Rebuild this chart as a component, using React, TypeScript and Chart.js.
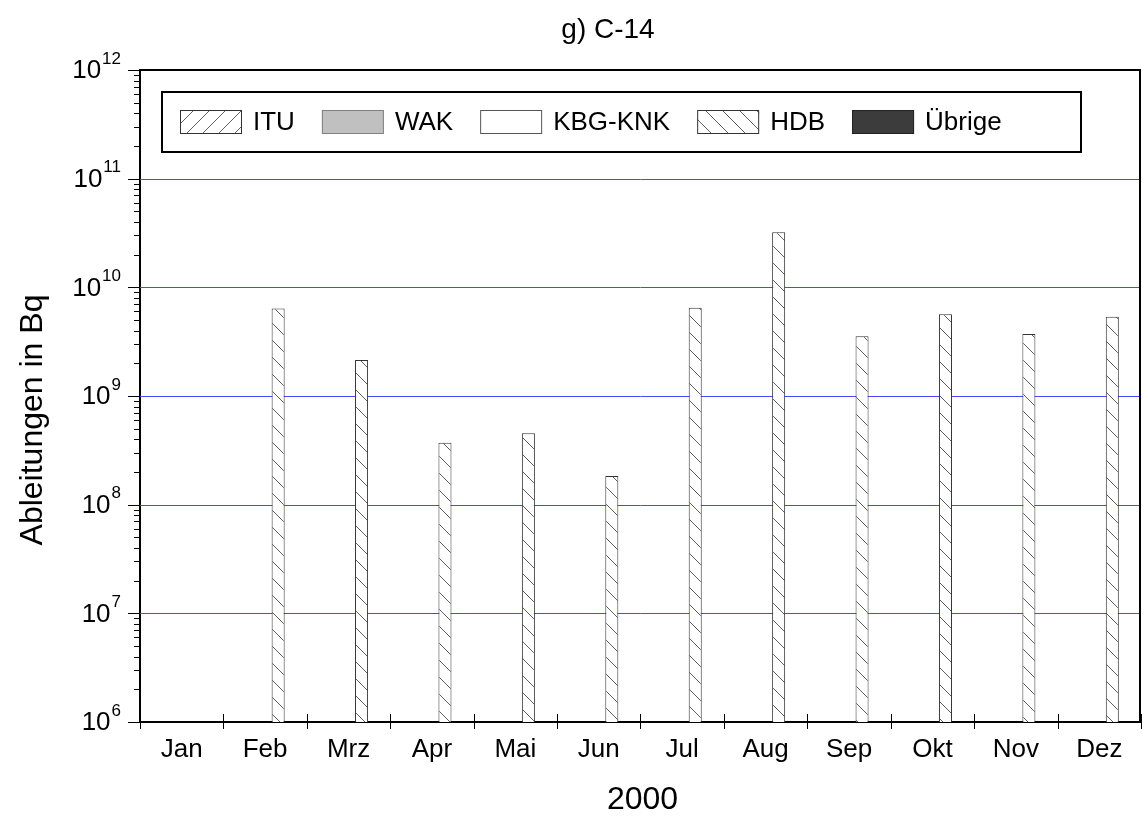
import React, { useEffect, useRef } from "react";
import { Chart, registerables } from "chart.js";

Chart.register(...registerables);

// ---------- data ----------
const months = ["Jan", "Feb", "Mrz", "Apr", "Mai", "Jun", "Jul", "Aug", "Sep", "Okt", "Nov", "Dez"];
const seriesLabels = ["ITU", "WAK", "KBG-KNK", "HDB", "Übrige"];
const ituValues = [null, null, null, null, null, null, null, null, null, null, null, null];
const wakValues = [null, null, null, null, null, null, null, null, null, null, null, null];
const kbgKnkValues = [null, null, null, null, null, null, null, null, null, null, null, null];
const hdbValues = [null, 6.4e9, 2.14e9, 3.72e8, 4.54e8, 1.84e8, 6.5e9, 3.21e10, 3.54e9, 5.65e9, 3.72e9, 5.37e9];
const uebrigeValues = [null, null, null, null, null, null, null, null, null, null, null, null];
const yTickExponents = [6, 7, 8, 9, 10, 11, 12];
const minorMultipliers = [2, 3, 4, 5, 6, 7, 8, 9];
const chartTitle = "g) C-14";
const xAxisTitle = "2000";
const yAxisTitle = "Ableitungen in Bq";

const FONT = '"Liberation Sans", Arial, sans-serif';

function makeHatch(dir: "/" | "\\", size: number, bg: string, line: string) {
  const c = document.createElement("canvas");
  c.width = size;
  c.height = size;
  const g = c.getContext("2d")!;
  g.fillStyle = bg;
  g.fillRect(0, 0, size, size);
  g.fillStyle = line;
  for (let i = 0; i < size; i++) {
    if (dir === "\\") g.fillRect(i, i, 1, 1);
    else g.fillRect(i, size - 1 - i, 1, 1);
  }
  return g.createPattern(c, "repeat")!;
}

export default function App() {
  const ref = useRef<HTMLCanvasElement | null>(null);

  useEffect(() => {
    const canvas = ref.current;
    if (!canvas) return;

    const ituFill = makeHatch("/", 16, "#ffffff", "#606060");
    const hdbFill = makeHatch("\\", 17, "#ffffff", "#606060");
    const fills = [ituFill, "#c0c0c0", "#ffffff", hdbFill, "#3c3c3c"];
    const borders = ["#333333", "#808080", "#555555", "#333333", "#222222"];
    const valueSets = [ituValues, wakValues, kbgKnkValues, hdbValues, uebrigeValues];

    const gridPlugin = {
      id: "blueGrid",
      beforeDatasetsDraw(chart: any) {
        const { ctx, chartArea } = chart;
        const ys = chart.scales.y;
        ctx.save();
        ctx.strokeStyle = "#4848ff";
        ctx.lineWidth = 1;
        ctx.beginPath();
        yTickExponents.forEach((e, i) => {
          if (i === 0 || i === yTickExponents.length - 1) return;
          const py = Math.round(ys.getPixelForValue(Math.pow(10, e))) + 0.5;
          ctx.moveTo(chartArea.left, py);
          ctx.lineTo(chartArea.right, py);
        });
        ctx.stroke();
        ctx.restore();
      },
    };

    const decor = {
      id: "decor",
      afterDraw(chart: any) {
        const { ctx, chartArea } = chart;
        const xs = chart.scales.x;
        const ys = chart.scales.y;
        const L = chartArea.left;
        const R = chartArea.right;
        const T = chartArea.top;
        const B = chartArea.bottom;
        ctx.save();

        // frame top & right
        ctx.strokeStyle = "#000";
        ctx.lineWidth = 2;
        ctx.beginPath();
        ctx.moveTo(L, T);
        ctx.lineTo(R - 1, T);
        ctx.lineTo(R - 1, B);
        ctx.stroke();

        // y ticks
        ctx.lineWidth = 1;
        ctx.strokeStyle = "#000";
        ctx.beginPath();
        yTickExponents.forEach((e, i) => {
          const py = Math.round(ys.getPixelForValue(Math.pow(10, e))) + 0.5;
          ctx.moveTo(L - 12, py);
          ctx.lineTo(L, py);
          if (i < yTickExponents.length - 1) {
            minorMultipliers.forEach((m) => {
              const pm = Math.round(ys.getPixelForValue(m * Math.pow(10, e))) + 0.5;
              ctx.moveTo(L - 6, pm);
              ctx.lineTo(L, pm);
            });
          }
        });
        ctx.stroke();

        // y tick labels 10^e
        ctx.fillStyle = "#000";
        yTickExponents.forEach((e) => {
          const py = ys.getPixelForValue(Math.pow(10, e));
          ctx.font = `26px ${FONT}`;
          const wb = ctx.measureText("10").width;
          ctx.font = `17px ${FONT}`;
          const we = ctx.measureText(String(e)).width;
          const x0 = L - 20 - wb - we;
          ctx.textAlign = "left";
          ctx.textBaseline = "middle";
          ctx.font = `26px ${FONT}`;
          ctx.fillText("10", x0, py + 1);
          ctx.font = `17px ${FONT}`;
          ctx.fillText(String(e), x0 + wb + 1, py - 11);
        });

        // x ticks at category boundaries
        const half = (xs.getPixelForValue(1) - xs.getPixelForValue(0)) / 2;
        ctx.beginPath();
        ctx.lineWidth = 1;
        for (let i = 0; i <= months.length; i++) {
          const px = Math.round(xs.getPixelForValue(i) - half) + 0.5;
          ctx.moveTo(px, B - 8);
          ctx.lineTo(px, B + 7);
        }
        ctx.stroke();

        // titles
        ctx.fillStyle = "#000";
        ctx.textAlign = "center";
        ctx.textBaseline = "middle";
        ctx.font = `28px ${FONT}`;
        ctx.fillText(chartTitle, 608, 30);
        ctx.font = `32px ${FONT}`;
        ctx.fillText(xAxisTitle, (L + R) / 2 + 2, 800);
        ctx.save();
        ctx.translate(33, 420);
        ctx.rotate(-Math.PI / 2);
        ctx.fillText(yAxisTitle, 0, 0);
        ctx.restore();

        // legend
        const bx = L + 22;
        const by = T + 22;
        ctx.fillStyle = "#fff";
        ctx.fillRect(bx, by, 919, 60);
        ctx.strokeStyle = "#000";
        ctx.lineWidth = 2;
        ctx.strokeRect(bx, by, 919, 60);
        let cx = bx + 18;
        const cy = by + 30;
        ctx.font = `26px ${FONT}`;
        chart.data.datasets.forEach((ds: any) => {
          ctx.fillStyle = ds.backgroundColor;
          ctx.fillRect(cx, cy - 12, 62, 24);
          ctx.strokeStyle = ds.borderColor;
          ctx.lineWidth = 1;
          ctx.strokeRect(cx + 0.5, cy - 11.5, 61, 23);
          ctx.fillStyle = "#000";
          ctx.textAlign = "left";
          ctx.textBaseline = "middle";
          ctx.fillText(ds.label, cx + 73, cy + 1);
          cx += 73 + ctx.measureText(ds.label).width + 27;
        });

        ctx.restore();
      },
    };

    const chart = new Chart(canvas, {
      type: "bar",
      data: {
        labels: months,
        datasets: seriesLabels.map((label, i) => ({
          label,
          data: valueSets[i],
          backgroundColor: fills[i] as any,
          borderColor: borders[i],
          borderWidth: 1,
          barPercentage: 1,
          categoryPercentage: 0.78,
        })),
      },
      options: {
        responsive: false,
        animation: false,
        layout: { padding: { top: 70, right: 1, left: 0, bottom: 0 } },
        plugins: {
          legend: { display: false },
          title: { display: false },
          tooltip: { enabled: false },
        },
        scales: {
          x: {
            grid: { display: false, drawTicks: false },
            border: { display: true, color: "#000", width: 2 },
            ticks: {
              color: "#000",
              font: { family: FONT, size: 26 },
              padding: 12,
              maxRotation: 0,
              autoSkip: false,
            },
            afterFit: (s: any) => {
              s.height = 97;
            },
          },
          y: {
            type: "logarithmic",
            min: 1e6,
            max: 1e12,
            afterBuildTicks: (s: any) => {
              s.ticks = yTickExponents.map((e) => ({ value: Math.pow(10, e), major: true }));
            },
            grid: { display: false, drawTicks: false },
            border: { display: true, color: "#000", width: 2 },
            ticks: { display: false },
            afterFit: (s: any) => {
              s.width = 140;
            },
          },
        },
      },
      plugins: [gridPlugin, decor],
    });

    return () => chart.destroy();
  }, []);

  return (
    <div style={{ position: "absolute", left: 0, top: 0, width: 1142, height: 819, background: "#fff" }}>
      <canvas ref={ref} width={1142} height={819} style={{ display: "block" }} />
    </div>
  );
}
